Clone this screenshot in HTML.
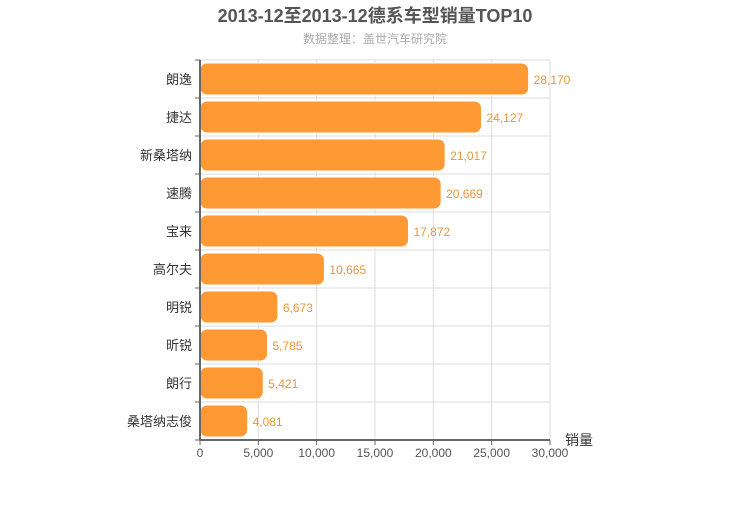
<!DOCTYPE html>
<html><head><meta charset="utf-8"><style>
body{margin:0;background:#fff;width:750px;height:500px;overflow:hidden}
svg{font-family:"Liberation Sans","Noto Sans CJK SC",sans-serif}
</style></head><body>
<svg width="750" height="500">
<text x="375" y="22" text-anchor="middle" font-size="18" font-weight="bold" fill="#555">2013-12至2013-12德系车型销量TOP10</text>
<text x="375" y="43" text-anchor="middle" font-size="12" fill="#aaa">数据整理：盖世汽车研究院</text>
<g id="g"></g>
<text x="565" y="445" font-size="14" fill="#333">销量</text>
</svg>
<script>
const categories=["朗逸","捷达","新桑塔纳","速腾","宝来","高尔夫","明锐","昕锐","朗行","桑塔纳志俊"];
const values=[28170,24127,21017,20669,17872,10665,6673,5785,5421,4081];
const ticks=[0,5000,10000,15000,20000,25000,30000];
const NS="http://www.w3.org/2000/svg";
const g=document.getElementById('g');
const x0=200,x1=550,yTop=60,yBot=440,maxV=30000;
const xs=v=>x0+(v/maxV)*(x1-x0);
const rh=(yBot-yTop)/categories.length;
function mk(t,a){const e=document.createElementNS(NS,t);for(const k in a)e.setAttribute(k,a[k]);g.appendChild(e);return e;}
ticks.forEach(t=>{
 const l=mk('line',{x1:xs(t),x2:xs(t),y1:yTop,y2:yBot,stroke:'#ddd'});
 
 
 const tk=mk('line',{x1:xs(t),x2:xs(t),y1:yBot,y2:yBot+5,stroke:'#666'});
 
 
 const tx=mk('text',{x:xs(t),y:yBot+17,'text-anchor':'middle','font-size':12,fill:'#555'});
 tx.textContent=t.toLocaleString('en-US');
 
 
});
for(let i=0;i<=categories.length;i++){
 const y=yTop+i*rh;
 const l=mk('line',{x1:x0,x2:x1,y1:y,y2:y,stroke:'#ddd'});
 
 
 const tk=mk('line',{x1:x0-5,x2:x0,y1:y,y2:y,stroke:'#666'});
 
 
}
categories.forEach((c,i)=>{
 const yc=yTop+rh*(i+0.5);
 const r=mk('rect',{x:x0,y:yc-16,width:xs(values[i])-x0,height:32,rx:7,fill:'#ff9933',stroke:'#fff','stroke-width':1});
 
 
 const v=mk('text',{x:xs(values[i])+5,y:yc+5,'font-size':12,fill:'#e8973a'});
 v.textContent=values[i].toLocaleString('en-US');
 
 
 const lb=mk('text',{x:x0-8,y:yc+5,'text-anchor':'end','font-size':13,fill:'#333'});
 lb.textContent=c;
 
 
});
const ax=mk('line',{x1:x0,x2:x1,y1:yBot,y2:yBot,stroke:'#666','stroke-width':2});


const ay=mk('line',{x1:x0,x2:x0,y1:yTop,y2:yBot,stroke:'#666','stroke-width':2});


</script>
</body></html>
